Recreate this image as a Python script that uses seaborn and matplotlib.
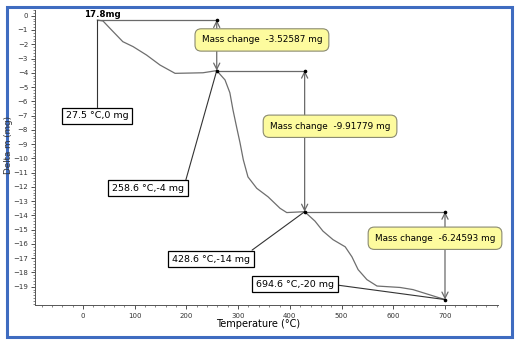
import numpy as np
import pandas as pd
import seaborn as sns
import matplotlib.pyplot as plt
from matplotlib.patches import Rectangle
from matplotlib.ticker import MultipleLocator

# ---- data ----
temperature = [27.5, 38.7, 52, 77, 97, 123, 149, 178, 207, 232, 258.6,
               274.6, 284, 290, 297, 303.6, 310, 319, 336, 358, 381, 394, 428.6,
               448.6, 464, 483.5, 507, 520, 532, 549, 568.5, 613, 638, 700]
mass = [-0.3, -0.37, -0.88, -1.82, -2.17, -2.76, -3.46, -4.04, -4.02, -4.0, -3.85,
        -4.5, -5.4, -6.6, -7.8, -8.9, -10.1, -11.3, -12.1, -12.7, -13.5, -13.8, -13.74,
        -14.4, -15.1, -15.7, -16.2, -16.9, -17.8, -18.5, -18.95, -19.05, -19.2, -19.9]

step_temps = [258.6, 428.6, 700]
step_top = [-0.3, -3.85, -13.74]
step_bottom = [-3.85, -13.74, -19.9]
step_start = [27.5, 258.6, 428.6]
mass_change_labels = ["Mass change  -3.52587 mg", "Mass change  -9.91779 mg",
                      "Mass change  -6.24593 mg"]
mass_change_pos = [(346, -1.70), (477.7, -7.75), (680.7, -15.6)]

point_labels = ["27.5 °C,0 mg", "258.6 °C,-4 mg", "428.6 °C,-14 mg", "694.6 °C,-20 mg"]
point_label_pos = [(27.1, -7.03), (125.7, -12.08), (247.5, -17.07), (410, -18.82)]
point_anchor = [(27.5, -0.3), (258.6, -3.85), (428.6, -13.74), (700, -19.9)]
point_link_end = [(27.5, -6.4), (199, -11.5), (327, -16.43), (491, -18.88)]

x_ticks = [0, 100, 200, 300, 400, 500, 600, 700]
y_ticks = list(range(0, -20, -1))

df = pd.DataFrame({"Temperature": temperature, "Mass": mass})

sns.set_theme(style="white")
plt.rcParams['font.family'] = ['DejaVu Sans']

W, H = 517, 346
fig = plt.figure(figsize=(W / 100, H / 100), dpi=100)
ax = fig.add_axes([35 / W, (H - 305) / H, 463 / W, 295 / H])

sns.lineplot(data=df, x="Temperature", y="Mass", ax=ax, sort=False,
             color="#6e6e6e", linewidth=0.9)

ax.set_xlim(-92.8, 802.5)
ax.set_ylim(-20.28, 0.4)

line_c = "#6a6a6a"
# step annotations
for t, top, bot, t0 in zip(step_temps, step_top, step_bottom, step_start):
    ax.plot([t0, t], [top, top], color=line_c, lw=0.9, zorder=3)
    ax.annotate("", xy=(t, top), xytext=(t, bot),
                arrowprops=dict(arrowstyle="<->", color=line_c, lw=0.9,
                                mutation_scale=11, shrinkA=0, shrinkB=0), zorder=3)
    ax.plot([t, t], [top, bot], "o", color="black", ms=1.6, zorder=4)

for txt, (x, y) in zip(mass_change_labels, mass_change_pos):
    ax.text(x, y, txt, ha="center", va="center", fontsize=6.4, color="black", zorder=6,
            bbox=dict(boxstyle="round,pad=0.75,rounding_size=0.7", fc="#fdfb9e",
                      ec="#8a8a70", lw=0.8))

for txt, (x, y), (ax0, ay0), (ax1, ay1) in zip(point_labels, point_label_pos,
                                               point_anchor, point_link_end):
    ax.plot([ax0, ax1], [ay0, ay1], color="#333333", lw=0.8, zorder=3)
    ax.text(x, y, txt, ha="center", va="center", fontsize=6.8, color="black", zorder=6,
            bbox=dict(boxstyle="square,pad=0.38", fc="white", ec="black", lw=0.9))

ax.text(2, 0.05, "17.8mg", fontsize=6.2, fontweight="bold", ha="left", va="center",
        color="black")

# axes styling
ax.set_xticks(x_ticks)
ax.set_yticks(y_ticks)
ax.xaxis.set_minor_locator(MultipleLocator(20))
ax.yaxis.set_minor_locator(MultipleLocator(0.2))
ax.tick_params(axis="both", which="major", labelsize=5, colors="#333333",
               length=3, width=0.6, direction="out", left=True, bottom=True)
ax.tick_params(axis="both", which="minor", length=1.5, width=0.5, color="#555555",
               left=True, bottom=True)
ax.tick_params(axis="x", pad=2.5)
ax.tick_params(axis="y", pad=2)
for s in ["top", "right"]:
    ax.spines[s].set_visible(False)
for s in ["left", "bottom"]:
    ax.spines[s].set_color("#555555")
    ax.spines[s].set_linewidth(0.7)
ax.set_xlabel("")
ax.set_ylabel("")
fig.text(258 / W, 1 - 324 / H, "Temperature (°C)", ha="center", va="center",
         fontsize=7, color="black")
fig.text(9 / W, 1 - 145 / H, "Delta m (mg)", ha="center", va="center",
         rotation=90, fontsize=6.3, color="#333333")

fig.patches.append(Rectangle((7 / W, 1 - 337 / H), 505 / W, 330 / H,
                             transform=fig.transFigure, fill=False,
                             ec="#3f6cc0", lw=2.2))

fig.savefig("out.png", dpi=100)
